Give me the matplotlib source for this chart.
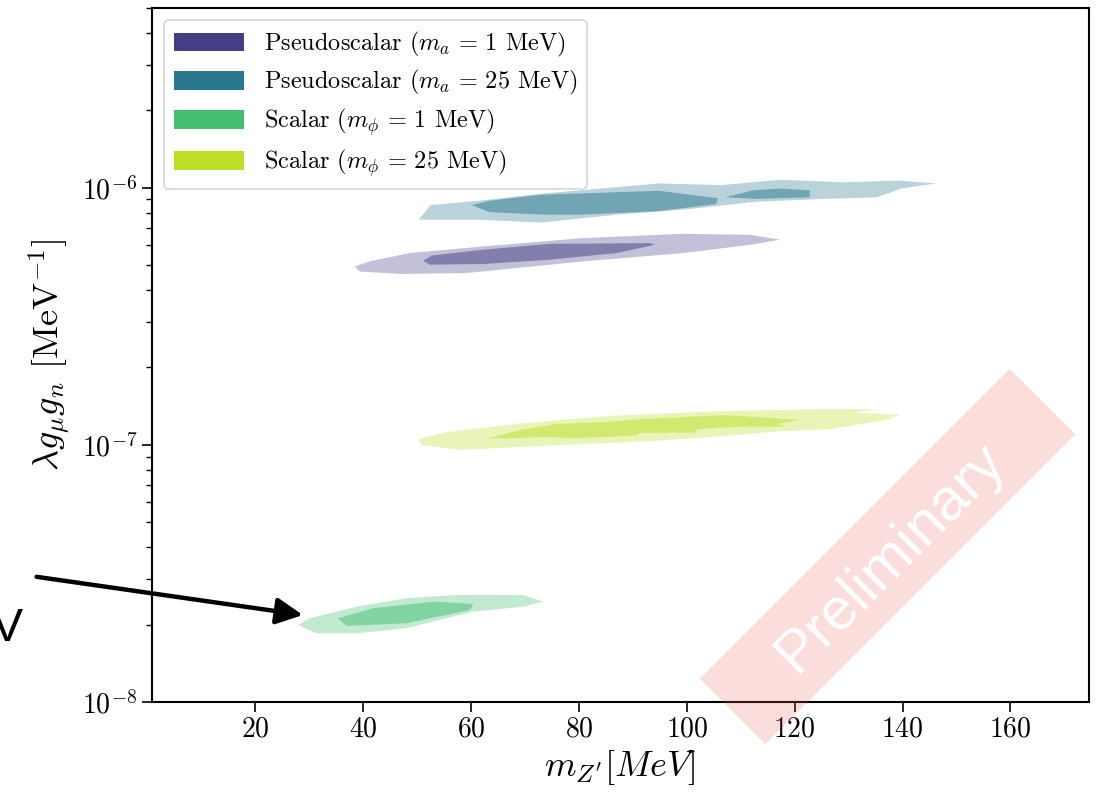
import numpy as np
import matplotlib
matplotlib.use("Agg")
import matplotlib.pyplot as plt
from matplotlib.patches import Rectangle, Patch

plt.rcParams['font.family'] = 'serif'
plt.rcParams['font.serif'] = ['cmr10']
plt.rcParams['mathtext.fontset'] = 'cm'
plt.rcParams['axes.formatter.use_mathtext'] = True

# contour outlines: (m_Z' [MeV], coupling)
# pseudoscalar m_a = 1 MeV, y in units of 1e-6
ps1_outer_x = [38.4, 41.2, 48.6, 62.2, 80.7, 99.3, 111.8, 117.3, 111.8, 99.3, 80.7, 65.4, 59.2, 47.3, 39.4]
ps1_outer_y = [0.494, 0.517, 0.557, 0.591, 0.637, 0.662, 0.656, 0.628, 0.600, 0.557, 0.517, 0.480, 0.466, 0.462, 0.472]
ps1_inner_x = [51.1, 52.7, 62.2, 74.6, 93.2, 94.1, 87.0, 74.6, 62.2, 52.4]
ps1_inner_y = [0.520, 0.545, 0.574, 0.605, 0.609, 0.600, 0.557, 0.525, 0.505, 0.502]

# pseudoscalar m_a = 25 MeV, y in units of 1e-6
ps25_outer_x = [50.3, 52.5, 61.4, 73.0, 94.8, 106.4, 117.3, 128.9, 139.2, 146.2, 139.8, 135.3, 125.6, 112.8, 100.0, 87.2, 73.0, 61.4]
ps25_outer_y = [0.751, 0.856, 0.890, 0.948, 1.039, 1.024, 1.074, 1.050, 1.066, 1.039, 0.993, 0.918, 0.905, 0.882, 0.824, 0.786, 0.732, 0.751]
ps25_inner_x = [60.1, 63.4, 73.0, 94.8, 105.8, 105.4, 94.8, 80.7, 73.0, 63.4]
ps25_inner_y = [0.856, 0.890, 0.939, 0.973, 0.910, 0.864, 0.811, 0.786, 0.786, 0.804]
ps25_inner2_x = [107.1, 112.2, 117.3, 122.8, 122.8, 112.8]
ps25_inner2_y = [0.918, 0.977, 0.993, 0.977, 0.918, 0.905]

# scalar m_phi = 1 MeV, y in units of 1e-8
s1_outer_x = [27.9, 30.1, 38.8, 48.0, 57.3, 69.7, 73.4, 69.7, 60.4, 48.0, 38.8, 31.3]
s1_outer_y = [1.994, 2.117, 2.348, 2.532, 2.608, 2.608, 2.456, 2.348, 2.246, 1.935, 1.850, 1.850]
s1_inner_x = [35.3, 41.8, 53.0, 60.4, 59.8, 48.0, 36.9]
s1_inner_y = [2.117, 2.315, 2.456, 2.406, 2.280, 2.024, 1.976]

# scalar m_phi = 25 MeV, y in units of 1e-7
s25_outer_x = [50.2, 55.5, 68.4, 85.8, 104.3, 122.9, 135.2, 130.8, 139.6, 137.1, 126.6, 116.7, 107.4, 91.9, 73.3, 57.9, 50.8]
s25_outer_y = [1.052, 1.121, 1.207, 1.297, 1.348, 1.377, 1.377, 1.336, 1.308, 1.251, 1.151, 1.127, 1.084, 1.030, 0.991, 0.956, 1.000]
s25_inner_x = [62.9, 69.1, 75.9, 85.8, 91.9, 107.4, 121.0, 116.7, 118.5, 110.4, 101.8, 101.8, 91.3, 90.7, 79.6, 73.3]
s25_inner_y = [1.055, 1.144, 1.207, 1.229, 1.262, 1.305, 1.251, 1.207, 1.178, 1.178, 1.151, 1.117, 1.111, 1.087, 1.062, 1.072]

labels = [r'Pseudoscalar ($m_a\,=\,1$ MeV)', r'Pseudoscalar ($m_a\,=\,25$ MeV)',
          r'Scalar ($m_\phi\,=\,1$ MeV)', r'Scalar ($m_\phi\,=\,25$ MeV)']
colors = ['#433e85', '#2a788e', '#44bf70', '#bddf26']
xticks = [20, 40, 60, 80, 100, 120, 140, 160]

fig = plt.figure(figsize=(11.08, 8.0), dpi=100)
ax = fig.add_axes([0.137, 0.1225, 0.846, 0.8675])

blobs = [
    (ps1_outer_x, ps1_outer_y, [(ps1_inner_x, ps1_inner_y)], 1e-6, colors[0]),
    (ps25_outer_x, ps25_outer_y, [(ps25_inner_x, ps25_inner_y), (ps25_inner2_x, ps25_inner2_y)], 1e-6, colors[1]),
    (s1_outer_x, s1_outer_y, [(s1_inner_x, s1_inner_y)], 1e-8, colors[2]),
    (s25_outer_x, s25_outer_y, [(s25_inner_x, s25_inner_y)], 1e-7, colors[3]),
]
for ox, oy, inners, scale, c in blobs:
    ax.fill(ox, np.array(oy) * scale, color=c, alpha=0.32, lw=0)
    for ix, iy in inners:
        ax.fill(ix, np.array(iy) * scale, color=c, alpha=0.5, lw=0)

ax.set_yscale('log')
ax.set_xlim(0.8, 174.6)
ax.set_ylim(1e-8, 5e-6)
ax.set_xticks(xticks)
ax.tick_params(axis='both', which='major', labelsize=20, length=7, width=1.2, direction='out')
ax.tick_params(axis='y', which='minor', length=4, width=1.0)
for s in ax.spines.values():
    s.set_linewidth(1.5)

ax.set_xlabel(r"$m_{Z^\prime} [MeV]$", fontsize=26)
ax.set_ylabel(r"$\lambda g_\mu g_n$ [MeV$^{-1}$]", fontsize=26, labelpad=6)

handles = [Patch(facecolor=c, edgecolor='none') for c in colors]
leg = ax.legend(handles, labels, loc='upper left', fontsize=17.5, handlelength=2.9,
                handleheight=0.8, borderaxespad=0.5, labelspacing=0.38, fancybox=True)
leg.get_frame().set_edgecolor('#cccccc')
leg.get_frame().set_linewidth(1.2)

# arrow coming from outside the axes
ax.annotate('', xy=(28.8, 2.18e-8), xycoords='data',
            xytext=(0.033, 0.279), textcoords='figure fraction',
            arrowprops=dict(arrowstyle='-|>', lw=3.2, color='k', mutation_scale=40,
                            shrinkA=0, shrinkB=0),
            annotation_clip=False)
fig.text(0.021, 0.214, 'MeV', ha='right', va='center', fontsize=34, family='Liberation Sans')

# Preliminary watermark
band = Rectangle((8.875 - 2.19, 2.435 - 0.465), 4.38, 0.93, angle=45, rotation_point='center',
                 transform=fig.dpi_scale_trans, facecolor=(0.93, 0.35, 0.3), alpha=0.2,
                 edgecolor='none', zorder=10)
fig.add_artist(band)
fig.text(8.9 / 11.08, 2.42 / 8.0, 'Preliminary', rotation=45, ha='center', va='center',
         rotation_mode='anchor', fontsize=43, color='white', family='Liberation Sans', zorder=11)

fig.savefig('out.png', dpi=100)
